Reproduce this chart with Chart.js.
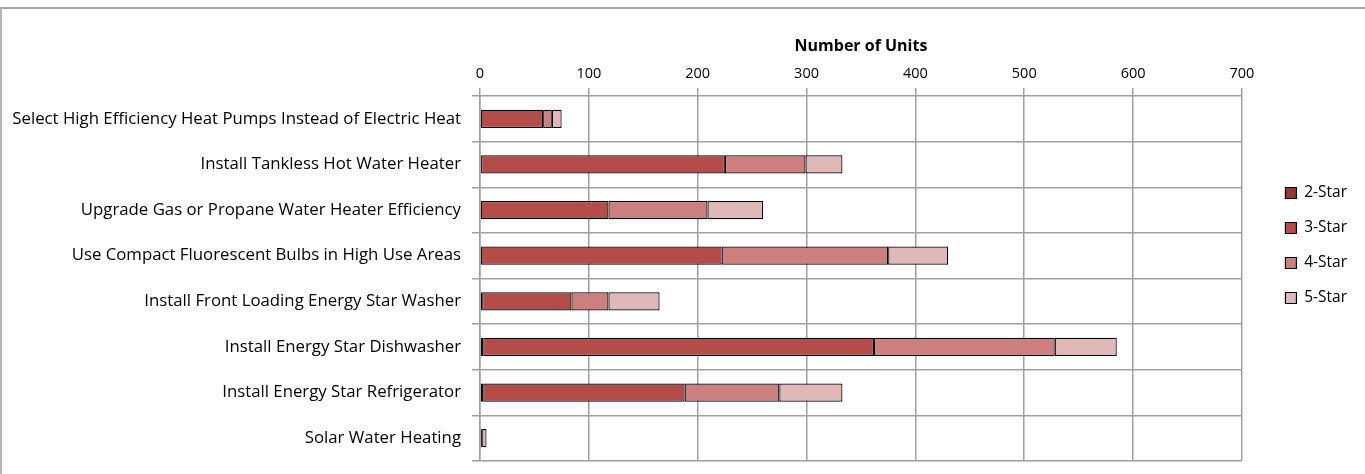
<!DOCTYPE html>
<html lang="en">
<head>
    <meta charset="UTF-8">
    <title>Number of Units</title>
    <script src="https://cdn.jsdelivr.net/npm/chart.js"></script>
    <style>
        body { margin: 0; background: #fff; }
        #wrap { position: relative; width: 1365px; height: 474px; }
        #frame { position: absolute; left: 0; top: 7px; right: -2px; bottom: -2px;
                 border-top: 2px solid #a6a6a6; border-left: 2px solid #b4b4b4; }
        canvas { position: absolute; left: 0; top: 0; }
    </style>
</head>
<body>
<div id="wrap">
    <div id="frame"></div>
    <canvas id="unitsChart" width="1365" height="474"></canvas>
</div>
<script>
    const measures = [
        'Select High Efficiency Heat Pumps Instead of Electric Heat',
        'Install Tankless Hot Water Heater',
        'Upgrade Gas or Propane Water Heater Efficiency',
        'Use Compact Fluorescent Bulbs in High Use Areas',
        'Install Front Loading Energy Star Washer',
        'Install Energy Star Dishwasher',
        'Install Energy Star Refrigerator',
        'Solar Water Heating'
    ];
    const star2 = [0, 1, 0, 0, 2, 3, 3, 1];
    const star3 = [58, 224, 118, 222, 82, 359, 185, 0];
    const star4 = [8, 74, 91, 153, 34, 166, 87, 1];
    const star5 = [9, 34, 51, 55, 47, 57, 58, 4];
    const xTicks = [0, 100, 200, 300, 400, 500, 600, 700];

    const font = "Open Sans";

    function ds(label, data, color) {
        return {
            label: label,
            data: data,
            backgroundColor: color,
            borderColor: '#000',
            borderWidth: 1.2,
            borderSkipped: false,
            categoryPercentage: 0.8,
            barPercentage: 0.5
        };
    }

    new Chart(document.getElementById('unitsChart'), {
        type: 'bar',
        data: {
            labels: measures,
            datasets: [
                ds('2-Star', star2, '#953735'),
                ds('3-Star', star3, '#b44d4a'),
                ds('4-Star', star4, '#cc7f7e'),
                ds('5-Star', star5, '#dfb8b8')
            ]
        },
        options: {
            indexAxis: 'y',
            responsive: false,
            animation: false,
            layout: { padding: { top: 30, bottom: 13, left: 0, right: 8 } },
            plugins: {
                tooltip: { enabled: false },
                legend: {
                    position: 'right',
                    labels: {
                        boxWidth: 11,
                        boxHeight: 11,
                        padding: 19.5,
                        color: '#000',
                        font: { family: font, size: 15.5 }
                    }
                }
            },
            scales: {
                x: {
                    position: 'top',
                    stacked: true,
                    min: 0,
                    max: 700,
                    afterBuildTicks: (s) => { s.ticks = xTicks.map(v => ({ value: v })); },
                    afterFit: (s) => { s.height = 66; },
                    grid: { color: '#a0a0a0', lineWidth: 1.5, tickLength: 8 },
                    border: { display: false },
                    ticks: { color: '#000', padding: 5, font: { family: font, size: 14.5 } },
                    title: {
                        display: true,
                        text: 'Number of Units',
                        color: '#000',
                        padding: { top: 7, bottom: 0 },
                        font: { family: font, size: 16, weight: 'bold' }
                    }
                },
                y: {
                    stacked: true,
                    afterFit: (s) => {
                        s.width = 480;
                        s.paddingTop = 0;
                        s.paddingBottom = 0;
                    },
                    grid: { color: '#a0a0a0', lineWidth: 1.5, tickLength: 8, offset: true },
                    border: { color: '#a0a0a0', width: 1.5 },
                    ticks: { color: '#000', padding: 11, font: { family: font, size: 16.8 } }
                },
                // empty spacer between plot and legend
                gap: {
                    type: 'category',
                    position: 'right',
                    afterFit: (s) => { s.width = 24; },
                    grid: { display: false },
                    border: { display: false },
                    ticks: { display: false }
                }
            }
        }
    });
</script>
</body>
</html>
